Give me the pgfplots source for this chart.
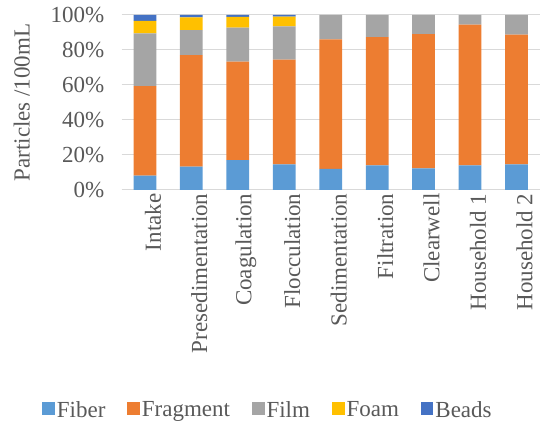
\documentclass[border=0pt]{standalone}
\usepackage{pgfplots}
\pgfplotsset{compat=1.18}
\usepackage{fontspec}
\setmainfont{Liberation Serif}
\definecolor{cFiber}{HTML}{5B9BD5}
\definecolor{cFrag}{HTML}{ED7D31}
\definecolor{cFilm}{HTML}{A5A5A5}
\definecolor{cFoam}{HTML}{FFC000}
\definecolor{cBeads}{HTML}{4472C4}
\definecolor{cText}{HTML}{595959}
\definecolor{cGrid}{HTML}{D9D9D9}
\begin{document}
\begin{tikzpicture}
\path[use as bounding box] (0,0) rectangle (541pt,423pt);
\begin{axis}[
  at={(121.7pt,233pt)}, anchor=south west,
  scale only axis, width=418pt, height=175pt,
  font=\fontsize{23}{27}\selectfont,
  ybar stacked, bar width=0.49,
  xmin=-0.5, xmax=8.5, ymin=0, ymax=100,
  xtick=data,
  xticklabels={Intake,Presedimentation,Coagulation,Flocculation,Sedimentation,Filtration,Clearwell,Household 1,Household 2},
  xticklabel style={rotate=90, anchor=east, yshift=-8pt, text=cText},
  ytick={0,20,40,60,80,100},
  yticklabels={0\%,20\%,40\%,60\%,80\%,100\%},
  yticklabel style={xshift=-14pt, text=cText},
  major tick length=0pt,
  axis x line*=bottom, axis y line*=left,
  x axis line style={cGrid, line width=1pt, -},
  y axis line style={draw=none},
  ymajorgrids, grid style={cGrid, line width=1pt},
  every axis y label/.style={at={(axis description cs:0,0.5)}, xshift=-100pt, rotate=90, anchor=center, text=cText},
  ylabel={Particles /100mL},
  legend style={at={(rel axis cs:0.35,-1.257)}, anchor=center, draw=none, fill=none,
    legend columns=5, text=cText, font=\fontsize{23}{27}\selectfont,
    /tikz/every even column/.append style={column sep=20pt}},
  legend image code/.code={\fill[#1] (0pt,-5pt) rectangle (12.5pt,7.5pt);},
]
\addplot[fill=cFiber, draw=none] coordinates {(0,8.2) (1,13.3) (2,17.0) (3,14.7) (4,12.0) (5,14.1) (6,12.4) (7,14.1) (8,14.7)};
\addplot[fill=cFrag, draw=none] coordinates {(0,51.2) (1,63.8) (2,56.3) (3,59.8) (4,74.1) (5,73.3) (6,76.6) (7,80.4) (8,74.1)};
\addplot[fill=cFilm, draw=none] coordinates {(0,30.1) (1,14.3) (2,19.5) (3,19.0) (4,13.9) (5,12.6) (6,11.0) (7,5.5) (8,11.2)};
\addplot[fill=cFoam, draw=none] coordinates {(0,7.1) (1,7.3) (2,6.1) (3,5.5) (4,0) (5,0) (6,0) (7,0) (8,0)};
\addplot[fill=cBeads, draw=none] coordinates {(0,3.4) (1,1.3) (2,1.1) (3,1.0) (4,0) (5,0) (6,0) (7,0) (8,0)};
\legend{Fiber,Fragment,Film,Foam,Beads}
\end{axis}
\end{tikzpicture}
\end{document}
